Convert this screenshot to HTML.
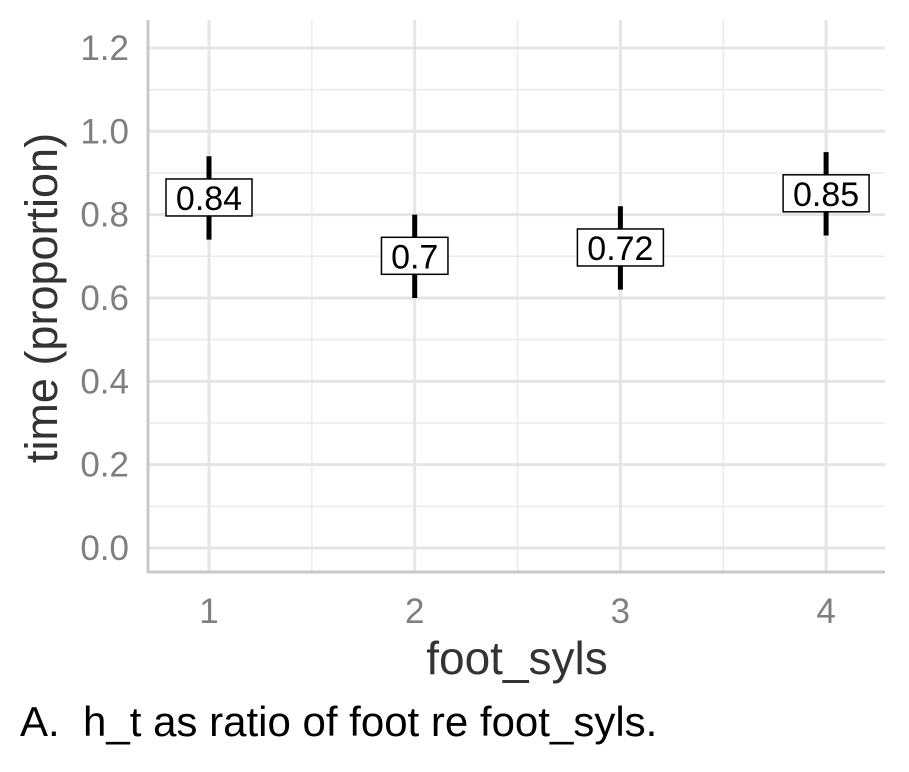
<!DOCTYPE html>
<html><head><meta charset="utf-8"><style>
body{margin:0;background:#fff;}
svg text{font-family:"Liberation Sans",Arial,sans-serif;}
</style></head><body>
<svg id="chart" width="909" height="767" xmlns="http://www.w3.org/2000/svg">
<g id="grid"></g><g id="axes"></g><g id="marks"></g>
<text x="517" y="674" font-size="46" fill="#333" text-anchor="middle">foot_syls</text>
<text transform="translate(57,298) rotate(-90)" font-size="45" fill="#333" text-anchor="middle">time (proportion)</text>
<text x="20" y="736" font-size="42" fill="#000" xml:space="preserve" style="white-space:pre">A.  h_t as ratio of foot re foot_syls.</text>
</svg>
<script>
const categories=[1,2,3,4];
const means=[0.84,0.70,0.72,0.85];
const lows=[0.74,0.60,0.62,0.75];
const highs=[0.94,0.80,0.82,0.95];
const labels=["0.84","0.7","0.72","0.85"];
const yTicks=[0,0.2,0.4,0.6,0.8,1.0,1.2];
const yTickLabels=["0.0","0.2","0.4","0.6","0.8","1.0","1.2"];
const NS="http://www.w3.org/2000/svg";
const X=c=>209+(c-1)*205.7;
const Y=v=>548-v*416.7;
const L=148,R=885,T=20,B=572;
function mk(tag,attrs,parent){const e=document.createElementNS(NS,tag);for(const k in attrs)e.setAttribute(k,attrs[k]);parent.appendChild(e);return e;}
const grid=document.getElementById('grid'),axes=document.getElementById('axes'),marks=document.getElementById('marks');
for(let v=0.1;v<1.25;v+=0.2){const l=mk('line',{x1:L,x2:R,y1:Y(v),y2:Y(v),stroke:'#ebebeb','stroke-width':1.5},grid);

}
for(let c=1.5;c<4;c+=1){const l=mk('line',{x1:X(c),x2:X(c),y1:T,y2:B,stroke:'#ebebeb','stroke-width':1.5},grid);

}
yTicks.forEach((v,i)=>{const l=mk('line',{x1:L,x2:R,y1:Y(v),y2:Y(v),stroke:'#e5e5e5','stroke-width':3},grid);


const t=mk('text',{x:129,y:Y(v)+12,'font-size':35,fill:'#7f7f7f','text-anchor':'end'},axes);t.textContent=yTickLabels[i];

});
categories.forEach(c=>{const l=mk('line',{x1:X(c),x2:X(c),y1:T,y2:B,stroke:'#e5e5e5','stroke-width':3},grid);


const t=mk('text',{x:X(c),y:623,'font-size':35,fill:'#7f7f7f','text-anchor':'middle'},axes);t.textContent=c;

});
const ya=mk('line',{x1:L,x2:L,y1:T,y2:B+1,stroke:'#c8c8c8','stroke-width':3},axes);


const xa=mk('line',{x1:L-1,x2:R,y1:B,y2:B,stroke:'#c8c8c8','stroke-width':3},axes);


categories.forEach((c,i)=>{
const e=mk('line',{x1:X(c),x2:X(c),y1:Y(highs[i]),y2:Y(lows[i]),stroke:'#000','stroke-width':5},marks);


const w=labels[i].length*19.5+8;
const r=mk('rect',{x:X(c)-w/2,y:Y(means[i])-19,width:w,height:37,fill:'#fff',stroke:'#000','stroke-width':1.5},marks);


const t=mk('text',{x:X(c),y:Y(means[i])+12,'font-size':34,fill:'#000','text-anchor':'middle'},marks);t.textContent=labels[i];

});
</script>
</body></html>
